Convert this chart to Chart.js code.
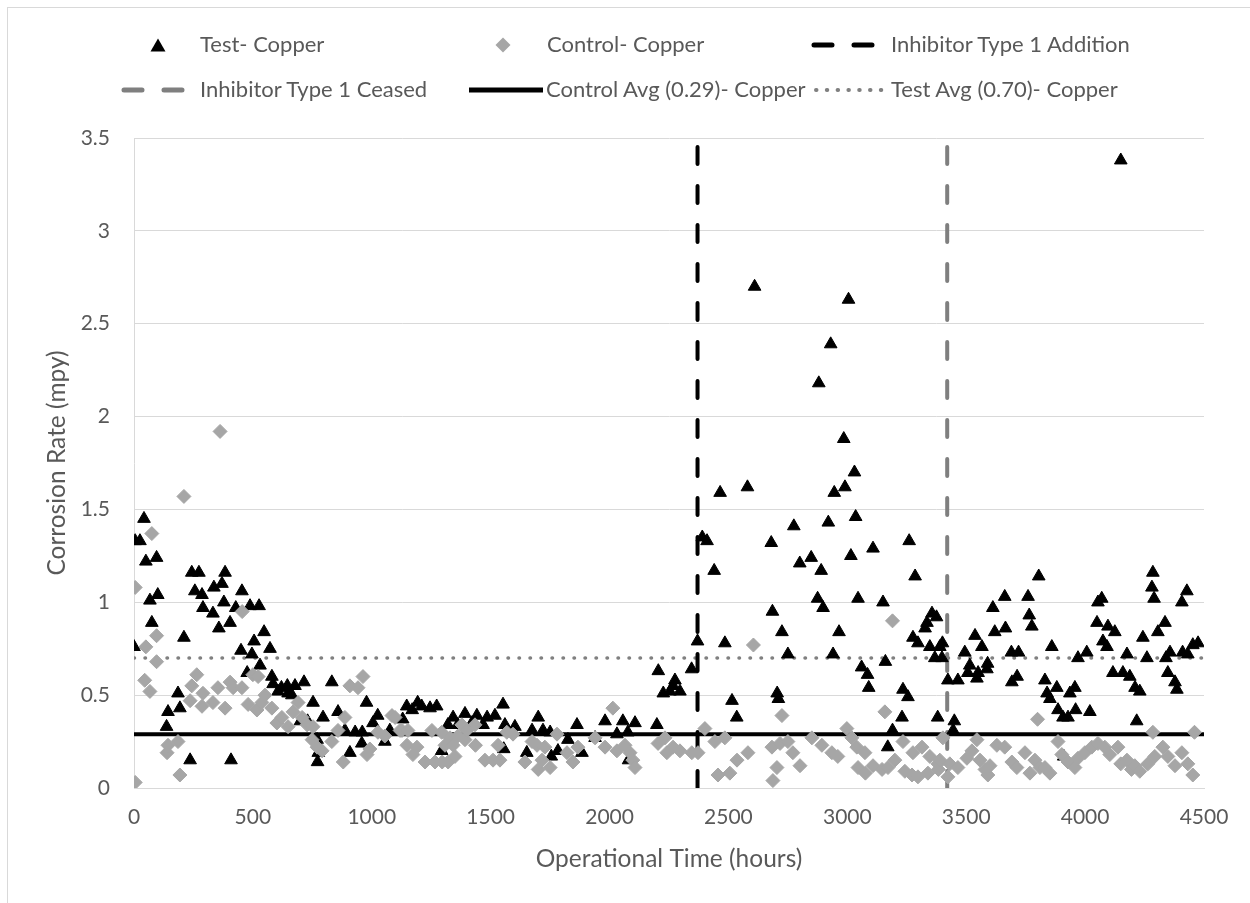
<!DOCTYPE html>
<html>
<head>
<meta charset="utf-8">
<title>Corrosion Rate - Copper</title>
<script src="https://cdn.jsdelivr.net/npm/chart.js@4.4.1/dist/chart.umd.min.js"></script>
<style>
  html, body { margin: 0; padding: 0; background: #fff; }
  body {
    width: 1250px; height: 903px; position: relative; overflow: hidden;
    font-family: Lato, "Open Sans", sans-serif; color: #595959;
  }
  .frame {
    position: absolute; left: 7px; top: 7px; width: 1260px; height: 910px;
    border-left: 1px solid #d9d9d9; border-top: 1px solid #d9d9d9;
  }
  #chartBox { position: absolute; left: 0; top: 0; width: 1250px; height: 903px; }
  .lg-mark { position: absolute; }
  .lg-text { position: absolute; font-size: 22px; line-height: 26px; white-space: nowrap; }
</style>
</head>
<body>
<div class="frame"></div>
<div id="chartBox"><canvas id="corrosionChart"></canvas></div>

<!-- legend, two rows of three -->
<svg class="lg-mark" style="left:150px;top:38px" width="16" height="14"><polygon points="8,0.5 15.5,13.5 0.5,13.5" fill="#000"/></svg>
<div class="lg-text" style="left:200px;top:31px">Test- Copper</div>
<svg class="lg-mark" style="left:495px;top:37px" width="16" height="16"><polygon points="8,0.5 15.5,8 8,15.5 0.5,8" fill="#a6a6a6"/></svg>
<div class="lg-text" style="left:547px;top:31px">Control- Copper</div>
<svg class="lg-mark" style="left:811px;top:41px" width="66" height="8"><line x1="3" y1="4" x2="63" y2="4" stroke="#000" stroke-width="5" stroke-linecap="round" stroke-dasharray="18 22"/></svg>
<div class="lg-text" style="left:891px;top:31px">Inhibitor Type 1 Addition</div>

<svg class="lg-mark" style="left:121px;top:86px" width="66" height="8"><line x1="3" y1="4" x2="63" y2="4" stroke="#7f7f7f" stroke-width="5" stroke-linecap="round" stroke-dasharray="18 22"/></svg>
<div class="lg-text" style="left:200px;top:76px">Inhibitor Type 1 Ceased</div>
<svg class="lg-mark" style="left:469px;top:86px" width="74" height="8"><line x1="0" y1="4" x2="74" y2="4" stroke="#000" stroke-width="5"/></svg>
<div class="lg-text" style="left:546px;top:76px">Control Avg (0.29)- Copper</div>
<svg class="lg-mark" style="left:813px;top:86px" width="74" height="8"><line x1="3" y1="4" x2="72" y2="4" stroke="#808080" stroke-width="4" stroke-linecap="round" stroke-dasharray="0.5 10.3"/></svg>
<div class="lg-text" style="left:891px;top:76px">Test Avg (0.70)- Copper</div>

<script>
// [hours, mpy]
const testCopper = [
  [0,0.76],[5,1.33],[25,1.33],[42,1.45],[50,1.22],[67,1.01],[75,0.89],[95,1.24],[100,1.04],
  [137,0.33],[143,0.41],[185,0.51],[193,0.43],[210,0.81],[236,0.15],[243,1.16],[256,1.06],
  [273,1.16],[286,1.04],[290,0.97],[332,0.94],[336,1.08],[357,0.86],[370,1.10],[378,1.00],
  [383,1.16],[404,0.89],[408,0.15],[428,0.97],[450,0.74],[454,1.06],[476,0.62],[488,0.98],
  [496,0.72],[505,0.79],[526,0.98],[530,0.66],[547,0.84],[572,0.75],[580,0.60],[585,0.56],
  [606,0.52],[620,0.54],[645,0.55],[648,0.51],[664,0.50],[677,0.55],[700,0.36],[715,0.57],
  [730,0.36],[753,0.46],[770,0.26],[772,0.14],[775,0.19],[795,0.38],[832,0.57],[858,0.41],
  [887,0.31],[908,0.19],[930,0.30],[958,0.24],[960,0.30],[978,0.46],[1005,0.35],[1025,0.39],
  [1055,0.25],[1076,0.31],[1130,0.37],[1147,0.44],[1170,0.42],[1193,0.46],[1210,0.44],
  [1245,0.43],[1273,0.44],[1294,0.20],[1320,0.34],[1342,0.38],[1362,0.34],[1392,0.40],
  [1421,0.35],[1442,0.39],[1468,0.34],[1485,0.38],[1518,0.39],[1552,0.45],[1555,0.21],
  [1560,0.34],[1602,0.33],[1652,0.19],[1674,0.31],[1700,0.38],[1720,0.31],[1750,0.30],
  [1755,0.17],[1783,0.20],[1825,0.26],[1863,0.34],[1884,0.19],[1939,0.27],[1981,0.36],
  [2031,0.29],[2056,0.36],[2077,0.30],[2080,0.15],[2107,0.35],[2199,0.34],[2205,0.63],
  [2226,0.51],[2254,0.52],[2267,0.55],[2275,0.58],[2296,0.52],[2345,0.64],[2370,0.79],
  [2390,1.35],[2410,1.33],[2440,1.17],[2465,1.59],[2485,0.78],[2515,0.47],[2535,0.38],
  [2580,1.62],[2610,2.70],[2680,1.32],[2685,0.95],[2705,0.51],[2710,0.48],[2725,0.84],
  [2750,0.72],[2775,1.41],[2800,1.21],[2848,1.24],[2875,1.02],[2880,2.18],[2890,1.17],
  [2898,0.97],[2920,1.43],[2930,2.39],[2940,0.72],[2945,1.59],[2965,0.84],[2985,1.88],
  [2990,1.62],[3005,2.63],[3015,1.25],[3030,1.70],[3035,1.46],[3045,1.02],[3060,0.65],
  [3085,0.61],[3090,0.54],[3108,1.29],[3150,1.00],[3160,0.68],[3170,0.22],[3190,0.31],
  [3230,0.38],[3234,0.53],[3255,0.49],[3260,1.33],[3276,0.81],[3285,1.14],[3297,0.78],
  [3327,0.86],[3335,0.89],[3347,0.76],[3356,0.94],[3368,0.70],[3375,0.92],[3380,0.38],
  [3389,0.76],[3398,0.70],[3400,0.78],[3423,0.58],[3445,0.31],[3450,0.36],[3465,0.58],
  [3494,0.73],[3507,0.62],[3515,0.66],[3537,0.82],[3545,0.59],[3550,0.62],[3566,0.76],
  [3587,0.64],[3590,0.67],[3612,0.97],[3620,0.84],[3662,1.03],[3665,0.86],[3690,0.73],
  [3692,0.57],[3714,0.60],[3720,0.73],[3760,1.03],[3765,0.93],[3776,0.87],[3805,1.14],
  [3831,0.58],[3840,0.51],[3852,0.48],[3860,0.76],[3881,0.54],[3886,0.42],[3907,0.38],
  [3910,0.17],[3928,0.38],[3936,0.51],[3957,0.54],[3960,0.42],[3970,0.70],[4007,0.73],
  [4020,0.41],[4050,0.89],[4054,1.00],[4070,1.02],[4075,0.79],[4092,0.76],[4096,0.87],
  [4117,0.62],[4125,0.84],[4150,3.38],[4159,0.62],[4176,0.72],[4188,0.60],[4210,0.54],
  [4217,0.36],[4230,0.52],[4243,0.81],[4260,0.70],[4281,1.08],[4285,1.16],[4290,1.02],
  [4306,0.84],[4336,0.89],[4340,0.70],[4348,0.62],[4357,0.73],[4378,0.57],[4386,0.53],
  [4407,1.00],[4410,0.73],[4428,1.06],[4432,0.72],[4453,0.77],[4475,0.78]
];

const controlCopper = [
  [5,0.03],[5,1.08],[45,0.58],[50,0.76],[67,0.52],[75,1.37],[95,0.82],[95,0.68],[139,0.19],
  [143,0.23],[185,0.25],[193,0.07],[210,1.57],[236,0.47],[243,0.55],[264,0.61],[286,0.44],
  [290,0.51],[332,0.46],[353,0.54],[362,1.92],[383,0.43],[404,0.57],[417,0.54],[454,0.54],
  [455,0.95],[480,0.45],[500,0.61],[517,0.42],[522,0.60],[538,0.46],[551,0.50],[580,0.43],
  [601,0.35],[622,0.38],[648,0.33],[669,0.41],[690,0.46],[707,0.38],[728,0.34],[749,0.26],
  [753,0.33],[770,0.22],[791,0.20],[832,0.25],[858,0.31],[880,0.14],[887,0.38],[908,0.55],
  [942,0.54],[963,0.60],[980,0.18],[992,0.21],[1026,0.30],[1055,0.28],[1085,0.39],[1098,0.38],
  [1119,0.31],[1127,0.31],[1148,0.23],[1152,0.31],[1173,0.18],[1190,0.22],[1224,0.14],
  [1253,0.31],[1266,0.14],[1294,0.30],[1296,0.14],[1308,0.23],[1321,0.14],[1329,0.27],
  [1342,0.23],[1350,0.17],[1362,0.28],[1379,0.34],[1392,0.26],[1400,0.31],[1434,0.34],
  [1436,0.23],[1476,0.15],[1510,0.15],[1531,0.23],[1539,0.15],[1568,0.30],[1594,0.29],
  [1644,0.14],[1674,0.25],[1695,0.23],[1700,0.10],[1716,0.15],[1728,0.22],[1750,0.11],
  [1779,0.29],[1821,0.19],[1846,0.14],[1867,0.22],[1939,0.27],[1981,0.22],[2014,0.43],
  [2031,0.20],[2065,0.23],[2086,0.19],[2098,0.15],[2107,0.11],[2204,0.24],[2233,0.27],
  [2241,0.19],[2267,0.22],[2296,0.20],[2346,0.19],[2372,0.19],[2401,0.32],[2443,0.25],
  [2456,0.07],[2485,0.27],[2506,0.08],[2536,0.15],[2582,0.19],[2605,0.77],[2683,0.22],
  [2687,0.04],[2704,0.11],[2717,0.24],[2725,0.39],[2750,0.25],[2771,0.19],[2801,0.12],
  [2851,0.27],[2893,0.23],[2935,0.19],[2960,0.17],[2998,0.32],[3019,0.27],[3040,0.22],
  [3045,0.11],[3074,0.19],[3076,0.08],[3108,0.12],[3146,0.10],[3158,0.41],[3171,0.11],
  [3190,0.90],[3200,0.15],[3234,0.25],[3242,0.09],[3272,0.07],[3276,0.19],[3297,0.06],
  [3314,0.22],[3339,0.08],[3347,0.17],[3381,0.13],[3383,0.10],[3389,0.15],[3402,0.27],
  [3423,0.06],[3431,0.13],[3465,0.11],[3503,0.16],[3524,0.20],[3545,0.26],[3558,0.15],
  [3579,0.10],[3591,0.07],[3600,0.12],[3629,0.23],[3662,0.22],[3692,0.14],[3713,0.11],
  [3747,0.19],[3768,0.08],[3789,0.15],[3800,0.37],[3810,0.11],[3831,0.11],[3852,0.08],
  [3886,0.25],[3902,0.18],[3928,0.14],[3957,0.11],[3970,0.16],[3999,0.19],[4028,0.22],
  [4054,0.24],[4083,0.22],[4104,0.18],[4138,0.22],[4150,0.13],[4176,0.15],[4195,0.10],
  [4209,0.12],[4230,0.09],[4264,0.13],[4285,0.30],[4293,0.17],[4327,0.22],[4348,0.17],
  [4378,0.12],[4407,0.19],[4432,0.13],[4453,0.07],[4460,0.30]
];

const controlAvg = 0.29;
const testAvg = 0.70;
const inhibitorAdded = 2370;   // hours
const inhibitorCeased = 3420;  // hours

const xTicks = [0, 500, 1000, 1500, 2000, 2500, 3000, 3500, 4000, 4500];
const yTicks = [0, 0.5, 1, 1.5, 2, 2.5, 3, 3.5];

const textGrey = "#595959";
const gridGrey = "#d9d9d9";
const font = (size) => ({ family: "Lato, 'Open Sans', sans-serif", size: size });
const plainNumber = (v) => String(v);

const toPoints = (rows) => rows.map(([x, y]) => ({ x, y }));
const hLine = (y) => [{ x: xTicks[0], y }, { x: xTicks[xTicks.length - 1], y }];
const vLine = (x) => [{ x, y: yTicks[0] }, { x, y: yTicks[yTicks.length - 1] }];

const refLine = (data, color, width, dash, order) => ({
  type: "line",
  data,
  showLine: true,
  borderColor: color,
  borderWidth: width,
  borderDash: dash,
  borderCapStyle: dash.length ? "round" : "butt",
  pointRadius: 0,
  fill: false,
  order
});

new Chart(document.getElementById("corrosionChart"), {
  type: "scatter",
  data: {
    datasets: [
      {
        label: "Test- Copper",
        data: toPoints(testCopper),
        pointStyle: "triangle",
        pointRadius: 7.3,
        backgroundColor: "#000",
        borderColor: "#000",
        borderWidth: 1,
        order: 1
      },
      {
        label: "Control- Copper",
        data: toPoints(controlCopper),
        pointStyle: "rectRot",
        pointRadius: 7,
        backgroundColor: "#a6a6a6",
        borderColor: "#a6a6a6",
        borderWidth: 1,
        order: 0
      },
      Object.assign(refLine(vLine(inhibitorAdded), "#000", 4, [17, 22], 2), { label: "Inhibitor Type 1 Addition" }),
      Object.assign(refLine(vLine(inhibitorCeased), "#7f7f7f", 4, [17, 22], 3), { label: "Inhibitor Type 1 Ceased" }),
      Object.assign(refLine(hLine(controlAvg), "#000", 4, [], 4), { label: "Control Avg (0.29)- Copper" }),
      Object.assign(refLine(hLine(testAvg), "#808080", 3.5, [0.5, 10.5], 5), { label: "Test Avg (0.70)- Copper" })
    ]
  },
  options: {
    responsive: true,
    maintainAspectRatio: false,
    animation: false,
    events: [],
    layout: { padding: { top: 138, right: 46, bottom: 0, left: 0 } },
    plugins: {
      legend: { display: false },
      tooltip: { enabled: false }
    },
    scales: {
      x: {
        type: "linear",
        position: "bottom",
        min: xTicks[0],
        max: xTicks[xTicks.length - 1],
        afterBuildTicks: (s) => { s.ticks = xTicks.map((v) => ({ value: v })); },
        afterFit: (s) => { s.height = 115; },
        grid: { drawOnChartArea: false, drawTicks: false },
        border: { color: gridGrey, width: 1 },
        ticks: { padding: 17, color: textGrey, font: font(21), callback: plainNumber },
        title: {
          display: true,
          text: "Operational Time (hours)",
          color: textGrey,
          font: font(24.5),
          padding: { top: 0, bottom: 29 }
        }
      },
      y: {
        min: yTicks[0],
        max: yTicks[yTicks.length - 1],
        afterBuildTicks: (s) => { s.ticks = yTicks.map((v) => ({ value: v })); },
        afterFit: (s) => { s.width = 134; },
        grid: { color: gridGrey, lineWidth: 1, drawTicks: false },
        border: { color: gridGrey, width: 1 },
        ticks: { padding: 24, color: textGrey, font: font(21), callback: plainNumber },
        title: {
          display: true,
          text: "Corrosion Rate (mpy)",
          color: textGrey,
          font: font(24.5),
          padding: { top: 42, bottom: 0 }
        }
      }
    }
  }
});
</script>
</body>
</html>
